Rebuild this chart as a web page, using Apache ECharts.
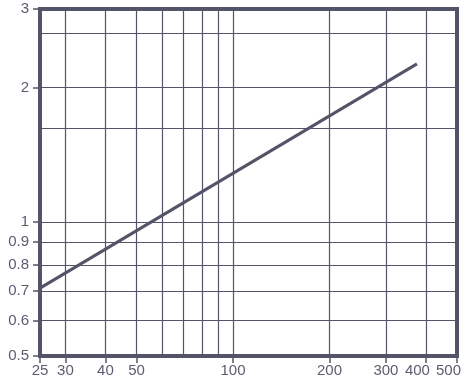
<!DOCTYPE html>
<html>
<head>
<meta charset="utf-8">
<script src="https://cdn.jsdelivr.net/npm/echarts@6/dist/echarts.min.js"></script>
<style>html,body{margin:0;padding:0;background:#fff}#c{width:467px;height:389px}</style>
</head>
<body>
<div id="c"></div>
<script>
const xValues = [25, 375];
const yValues = [0.71, 2.26];
const xTickLabels = [25, 30, 40, 50, 100, 200, 300, 400, 500];
const xGridValues = [30, 40, 50, 60, 70, 80, 90, 100, 200, 300, 400];
const yTickLabels = [0.5, 0.6, 0.7, 0.8, 0.9, 1, 2, 3];
const yGridValues = [0.6, 0.7, 0.8, 0.9, 1, 1.62, 2, 2.65];
const xShiftedLabels = [400, 500];

const C = '#545468';
const TXT = '#5c5c70';
const chart = echarts.init(document.getElementById('c'), null, {renderer: 'canvas'});
const font = {color: TXT, fontSize: 15, fontFamily: 'Liberation Sans, Arial, sans-serif'};

chart.setOption({
  animation: false,
  grid: {left: 40, right: 10, top: 9, bottom: 33, show: true, borderWidth: 4, borderColor: C, backgroundColor: 'transparent'},
  xAxis: [
    {
      type: 'log', logBase: 10, min: 25, max: 500,
      axisLine: {show: true, lineStyle: {color: C, width: 4}},
      axisTick: {show: true, length: 7, lineStyle: {color: C, width: 1.5}, customValues: xTickLabels},
      axisLabel: Object.assign({
        margin: 7, customValues: xTickLabels,
        formatter: v => xShiftedLabels.indexOf(Math.round(v)) >= 0 ? '{s|' + Math.round(v) + '}' : String(v),
        rich: {s: Object.assign({padding: [0, 17, 0, 0]}, font)}
      }, font),
      splitLine: {show: false},
      minorTick: {show: false}, minorSplitLine: {show: false}
    },
    {
      type: 'log', logBase: 10, min: 25, max: 500, position: 'bottom',
      axisLine: {show: false},
      axisTick: {show: false, customValues: xGridValues},
      axisLabel: {show: false},
      splitLine: {show: true, lineStyle: {color: C, width: 1.2}}
    }
  ],
  yAxis: [
    {
      type: 'log', logBase: 10, min: 0.5, max: 3,
      axisLine: {show: true, lineStyle: {color: C, width: 4}},
      axisTick: {show: true, length: 7, lineStyle: {color: C, width: 1.5}, customValues: yTickLabels},
      axisLabel: Object.assign({margin: 11, customValues: yTickLabels, formatter: v => String(v)}, font),
      splitLine: {show: false},
      minorTick: {show: false}, minorSplitLine: {show: false}
    },
    {
      type: 'log', logBase: 10, min: 0.5, max: 3, position: 'left',
      axisLine: {show: false},
      axisTick: {show: false, customValues: yGridValues},
      axisLabel: {show: false},
      splitLine: {show: true, lineStyle: {color: C, width: 1.2}}
    }
  ],
  series: [{
    type: 'line',
    xAxisIndex: 0, yAxisIndex: 0,
    data: xValues.map((x, i) => [x, yValues[i]]),
    showSymbol: false, symbol: 'none',
    lineStyle: {color: C, width: 3},
    z: 5
  }]
});
</script>
</body>
</html>
